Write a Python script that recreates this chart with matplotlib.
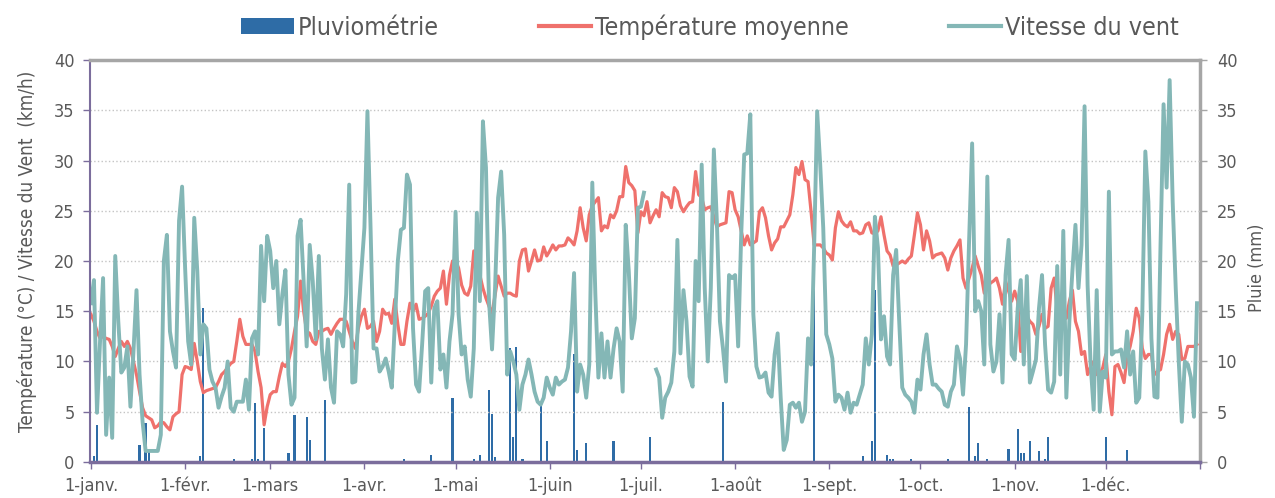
import numpy as np
import matplotlib.pyplot as plt
from matplotlib.patches import Patch
from matplotlib.lines import Line2D

plt.rcParams['font.family'] = ['DejaVu Sans']
plt.rcParams['font.stretch'] = 'condensed'

month_days = [0, 31, 59, 90, 120, 151, 181, 212, 243, 273, 304, 334, 365]
month_labels = ['1-janv.', '1-févr.', '1-mars', '1-avr.', '1-mai', '1-juin',
                '1-juil.', '1-août', '1-sept.', '1-oct.', '1-nov.', '1-déc.', '']

# mean daily temperature (°C), one value per day
temperature = [
    14.7, 14.0, 13.0, 12.3, 12.5, 12.3, 12.2, 11.5, 10.5, 11.3,
    12.0, 11.5, 12.0, 11.3, 10.0, 8.7, 7.0, 5.4, 4.6, 4.4,
    4.2, 3.4, 3.6, 4.0, 3.9, 3.5, 3.2, 4.5, 4.8, 5.0,
    8.7, 9.5, 9.4, 9.2, 11.8, 10.0, 8.0, 6.9, 7.1, 7.2,
    7.3, 7.4, 8.0, 8.7, 9.0, 9.4, 9.8, 10.0, 12.0, 14.2,
    12.5, 11.7, 11.7, 11.7, 11.0, 9.0, 7.4, 3.7, 5.5, 6.7,
    7.0, 7.0, 8.5, 9.8, 9.5, 10.0, 11.3, 13.0, 14.5, 18.0,
    15.0, 13.0, 12.8, 12.0, 11.7, 13.0, 13.0, 13.2, 13.3, 12.7,
    13.3, 13.8, 14.2, 14.2, 14.0, 13.0, 12.0, 11.3, 13.3, 14.5,
    15.2, 13.3, 13.5, 14.0, 12.0, 13.0, 15.2, 14.7, 14.8, 13.8,
    16.2, 13.7, 11.7, 11.7, 14.0, 15.8, 15.0, 15.7, 14.2, 14.3,
    14.5, 14.8, 15.5, 16.5, 17.0, 17.3, 19.0, 15.7, 18.6, 20.0,
    20.0, 19.3, 17.6, 16.8, 16.6, 17.5, 21.0, 20.0, 18.6, 17.3,
    16.3, 15.5, 14.8, 16.6, 18.5, 17.5, 16.5, 16.8, 16.8, 16.6,
    16.5, 20.0, 21.1, 21.2, 19.0, 20.0, 21.1, 20.0, 20.1, 21.4,
    20.5, 21.0, 21.6, 21.1, 21.5, 21.5, 21.6, 22.3, 22.0, 21.6,
    23.0, 25.3, 23.3, 22.0, 24.6, 25.5, 25.9, 26.3, 23.0, 23.5,
    23.3, 24.6, 24.3, 25.0, 26.4, 26.4, 29.4, 27.8, 27.5, 27.0,
    22.8, 24.9, 24.5, 25.9, 23.8, 24.5, 25.1, 24.4, 26.8, 26.4,
    26.3, 25.3, 27.3, 26.9, 25.5, 24.9, 25.4, 25.8, 25.9, 28.9,
    26.6, 26.3, 25.1, 25.3, 25.4, 24.4, 23.4, 23.6, 23.7, 23.8,
    26.9, 26.8, 25.1, 24.4, 23.0, 21.6, 22.5, 21.6, 21.8, 22.0,
    24.9, 25.3, 24.3, 22.5, 21.1, 21.8, 22.2, 23.4, 23.4, 24.0,
    24.6, 26.6, 29.3, 28.6, 29.9, 28.1, 27.9, 24.9, 21.6, 21.6,
    21.6, 21.3, 20.8, 20.6, 20.1, 23.3, 24.9, 24.0, 23.6, 23.4,
    23.9, 23.0, 23.0, 22.7, 22.8, 23.6, 23.8, 22.8, 22.7, 23.0,
    24.4, 22.6, 21.0, 20.6, 19.5, 19.6, 19.8, 20.0, 19.8, 20.2,
    20.5, 22.6, 24.8, 23.6, 21.1, 23.0, 22.0, 20.3, 20.6, 20.7,
    20.8, 20.3, 19.1, 20.3, 21.0, 21.5, 22.1, 18.3, 17.3, 18.3,
    19.3, 20.5, 19.5, 18.6, 16.8, 17.3, 17.8, 18.0, 18.3, 17.3,
    15.7, 18.0, 17.0, 16.0, 17.0, 16.0, 11.0, 15.0, 14.5, 14.0,
    13.7, 12.7, 13.5, 14.7, 13.3, 13.5, 17.3, 18.3, 15.0, 14.0,
    14.2, 14.3, 16.0, 17.1, 14.0, 13.0, 10.7, 11.0, 8.7, 9.5,
    10.0, 8.7, 8.7, 9.4, 10.7, 7.0, 4.7, 9.5, 9.7, 8.9,
    7.9, 10.5, 11.5, 13.0, 15.3, 14.3, 11.3, 10.3, 10.7, 10.7,
    8.7, 9.0, 9.2, 10.7, 12.7, 13.7, 12.2, 13.0, 12.7, 10.2,
    10.3, 11.5, 11.5, 11.5, 11.7,
]

# wind speed (km/h), nan = missing days
nan = np.nan
wind = [
    15.8, 18.1, 4.9, 12.0, 18.3, 2.7, 8.4, 2.4, 20.5, 14.0,
    8.9, 9.4, 11.5, 5.5, 11.0, 17.1, 8.7, 4.0, 1.1, 1.1,
    1.1, 1.1, 1.1, 2.7, 20.0, 22.6, 13.0, 11.0, 9.4, 24.0,
    27.4, 19.3, 12.0, 9.7, 24.3, 19.0, 10.7, 13.7, 13.3, 9.2,
    8.0, 7.4, 5.4, 6.5, 7.4, 10.0, 5.4, 5.0, 6.0, 6.0,
    6.0, 8.2, 5.2, 12.3, 13.0, 10.7, 21.5, 16.0, 22.5, 21.0,
    17.3, 20.0, 13.7, 16.7, 19.1, 8.7, 5.7, 6.4, 22.5, 24.1,
    18.0, 11.5, 21.6, 18.0, 12.2, 20.5, 11.3, 8.2, 12.2, 7.4,
    5.9, 13.0, 12.7, 11.5, 16.7, 27.6, 7.9, 8.0, 14.7, 19.0,
    23.3, 34.9, 23.6, 11.3, 11.3, 9.0, 9.5, 10.3, 9.0, 7.4,
    13.7, 20.0, 23.1, 23.3, 28.6, 27.6, 13.3, 7.7, 7.0, 11.7,
    17.0, 17.3, 7.9, 15.3, 16.0, 9.2, 10.7, 7.4, 12.0, 14.7,
    24.9, 14.7, 10.7, 11.5, 8.2, 6.5, 11.3, 24.8, 16.0, 33.9,
    29.3, 16.0, 11.2, 17.3, 26.3, 28.9, 22.6, 8.7, 11.0, 10.0,
    8.7, 5.2, 7.7, 8.7, 10.2, 8.7, 7.0, 6.0, 5.7, 6.4,
    8.4, 7.4, 6.7, 8.4, 7.7, 8.0, 8.2, 9.4, 13.0, 18.8,
    7.0, 9.7, 8.7, 6.4, 9.7, 27.8, 16.7, 8.4, 12.8, 8.4,
    12.0, 8.4, 11.3, 13.3, 12.0, 7.0, 23.6, 19.0, 12.3, 14.3,
    25.3, 25.4, 26.8, nan, nan, nan, 9.2, 8.4, 4.4, 6.4,
    7.0, 7.9, 11.0, 22.1, 10.8, 17.1, 14.0, 8.5, 7.5, 20.0,
    16.0, 29.6, 17.3, 10.0, 17.3, 31.1, 23.9, 14.0, 11.3, 8.0,
    18.6, 18.3, 18.6, 11.5, 22.6, 30.6, 30.7, 34.6, 14.7, 9.5,
    8.4, 8.5, 8.9, 6.9, 6.5, 10.7, 12.8, 6.4, 1.2, 2.2,
    5.7, 5.9, 5.4, 5.9, 4.0, 5.0, 12.3, 9.7, 21.3, 34.9,
    29.6, 23.3, 12.7, 11.7, 10.3, 6.0, 6.7, 6.4, 5.2, 6.9,
    4.9, 5.9, 5.7, 6.7, 7.7, 12.3, 9.7, 12.7, 24.4, 21.3,
    12.2, 14.5, 10.5, 9.7, 18.6, 21.1, 14.0, 7.4, 6.7, 6.4,
    6.0, 4.9, 8.2, 7.2, 10.7, 12.7, 9.7, 7.7, 7.7, 7.3,
    7.0, 5.7, 5.5, 7.0, 7.7, 11.5, 10.3, 6.7, 11.7, 22.0,
    31.7, 15.0, 16.0, 15.0, 9.7, 28.4, 11.7, 9.0, 10.0, 14.7,
    7.9, 18.6, 22.1, 10.7, 10.2, 15.3, 18.1, 9.7, 18.5, 7.9,
    9.0, 10.2, 15.3, 18.6, 11.7, 7.2, 6.9, 8.0, 19.5, 8.7,
    23.0, 6.4, 14.0, 19.0, 23.6, 17.3, 21.6, 35.4, 17.6, 9.7,
    5.2, 17.1, 5.0, 9.0, 8.4, 26.9, 10.7, 11.0, 11.0, 11.2,
    9.4, 13.0, 8.7, 11.0, 5.9, 6.4, 14.7, 30.9, 25.9, 12.3,
    6.5, 6.4, 21.6, 35.6, 27.3, 38.0, 25.9, 17.3, 10.0, 4.0,
    10.0, 9.7, 8.4, 4.5, 15.8,
]

# rain (mm): day of year and amount, dry days left out
rain_days = [1, 2, 16, 18, 19, 36, 37, 47, 53, 54, 55, 57, 65, 67, 71, 72, 77,
             84, 90, 101, 103, 112, 119, 126, 128, 131, 132, 133, 138, 139, 140,
             142, 148, 150, 159, 160, 163, 172, 184, 188, 204, 208, 238, 253,
             254, 257, 258, 262, 263, 264, 270, 282, 283, 286, 289, 291, 292,
             295, 296, 302, 305, 306, 307, 309, 312, 314, 315, 319, 330, 334,
             340, 341, 345, 353]
rain_mm = [0.6, 3.7, 1.7, 3.9, 1.2, 0.6, 15.3, 0.3, 0.3, 5.9, 0.3, 3.4, 0.9, 4.7,
           4.5, 2.2, 6.2, 0.1, 0.1, 0.1, 0.3, 0.7, 6.4, 0.3, 0.7, 7.2, 4.8, 0.5,
           11.3, 2.5, 11.4, 0.3, 5.7, 2.1, 10.7, 1.2, 1.9, 2.1, 2.5, 0.1, 0.1,
           6.0, 17.3, 0.1, 0.6, 2.1, 17.1, 0.7, 0.3, 0.3, 0.3, 0.3, 0.1, 0.1,
           5.5, 0.6, 1.9, 0.3, 0.1, 1.3, 3.3, 0.9, 0.9, 2.1, 1.1, 0.3, 2.5, 0.1,
           0.1, 2.5, 0.1, 1.2, 0.1, 0.1]

BLUE = '#2e6ca6'
RED = '#ef716c'
TEAL = '#84b7b6'
GREY_TXT = '#595959'
PURPLE = '#7b6d9c'
GREY_LINE = '#a6a6a6'

days = np.arange(len(temperature))

fig = plt.figure(figsize=(12.75, 4.98), dpi=100)
ax = fig.add_axes([0.0706, 0.0723, 0.8706, 0.8072])
ax2 = ax.twinx()

# rain bars on the right axis, kept behind the lines
ax2.bar(rain_days, rain_mm, width=0.75, color=BLUE)
ax.set_zorder(ax2.get_zorder() + 1)
ax.patch.set_visible(False)

ax.plot(days, temperature, color=RED, lw=2.3)
ax.plot(days, wind, color=TEAL, lw=2.8)

ax.set_xlim(-0.3, 365)
ax.set_ylim(0, 40)
ax2.set_ylim(0, 40)
ax.set_yticks(range(0, 41, 5))
ax2.set_yticks(range(0, 41, 5))
ax.set_xticks(month_days)
ax.set_xticklabels(month_labels)

ax.yaxis.grid(True, linestyle=':', color='#c4c4c4', lw=1)
ax.tick_params(axis='y', colors=PURPLE, labelcolor=GREY_TXT, labelsize=13,
               length=5, width=1, pad=6)
ax.tick_params(axis='x', colors=PURPLE, labelcolor=GREY_TXT, labelsize=13,
               length=5, width=1, pad=6)
ax2.tick_params(axis='y', colors=GREY_LINE, labelcolor=GREY_TXT, labelsize=13,
                length=5, width=1, pad=7)

for side in ['top', 'right']:
    ax.spines[side].set_visible(side == 'top')
ax.spines['top'].set_color(GREY_LINE)
ax.spines['top'].set_linewidth(2.5)
ax.spines['left'].set_color(PURPLE)
ax.spines['left'].set_linewidth(1.5)
ax.spines['bottom'].set_color(PURPLE)
ax.spines['bottom'].set_linewidth(2.5)
for side in ['top', 'left', 'bottom']:
    ax2.spines[side].set_visible(False)
ax2.spines['right'].set_color(GREY_LINE)
ax2.spines['right'].set_linewidth(2.5)

ax.set_ylabel('Température (°C) / Vitesse du Vent  (km/h)', color=GREY_TXT,
              fontsize=13.6)
ax.yaxis.set_label_coords(-0.048, 0.524)
ax2.set_ylabel('Pluie (mm)', color=GREY_TXT, fontsize=13, rotation=90)
ax2.yaxis.set_label_coords(1.043, 0.483)

handles = [Patch(facecolor=BLUE),
           Line2D([], [], color=RED, lw=3),
           Line2D([], [], color=TEAL, lw=3)]
labels = ['Pluviométrie', 'Température moyenne', 'Vitesse du vent']
fig.legend(handles, labels, loc='center', bbox_to_anchor=(0.557, 0.946),
           ncol=3, frameon=False, fontsize=18, handlelength=2.1,
           handleheight=0.65, handletextpad=0.15, columnspacing=4.0,
           labelcolor=GREY_TXT)

fig.savefig('out.png', dpi=100)
